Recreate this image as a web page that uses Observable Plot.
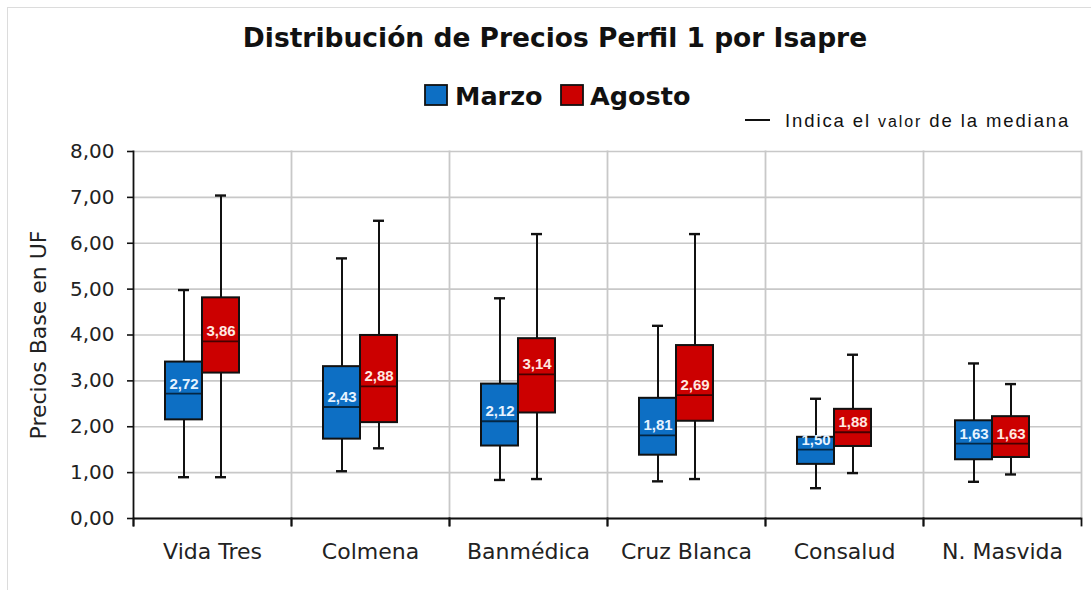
<!DOCTYPE html>
<html><head><meta charset="utf-8">
<script src="https://cdn.jsdelivr.net/npm/d3@7"></script>
<script src="https://cdn.jsdelivr.net/npm/@observablehq/plot@0.6"></script>
<style>
html,body{margin:0;padding:0;background:#fff;}
#page{position:relative;width:1091px;height:590px;overflow:hidden;}
#border{position:absolute;left:7px;top:7px;width:1100px;height:600px;border:1.5px solid #dcdcdc;box-sizing:border-box;}
#header{position:absolute;left:0;top:0;}
#chart{position:absolute;left:0;top:140px;}
</style></head><body>
<div id="page">
<div id="border"></div>
<svg id="header" width="1091" height="140" xmlns="http://www.w3.org/2000/svg">
  <text x="555" y="47" text-anchor="middle" font-family="DejaVu Sans" font-weight="bold" font-size="26.5" fill="#111">Distribución de Precios Perfil 1 por Isapre</text>
  <rect x="425" y="85" width="22" height="20" fill="#0d6fc4" stroke="#111" stroke-width="1.8"></rect>
  <text x="455" y="104.5" font-family="DejaVu Sans" font-weight="bold" font-size="25.5" fill="#111">Marzo</text>
  <rect x="561" y="85" width="22" height="20" fill="#cc0000" stroke="#111" stroke-width="1.8"></rect>
  <text x="590" y="104.5" font-family="DejaVu Sans" font-weight="bold" font-size="25.5" fill="#111">Agosto</text>
  <line x1="745" x2="770" y1="120" y2="120" stroke="#111" stroke-width="2"></line>
  <text x="785" y="127" font-family="Liberation Sans" font-size="18.5" letter-spacing="1.9" fill="#111">Indica el <tspan font-size="16">valor</tspan> de la mediana</text>
</svg>
<div id="chart"></div>
</div>
<script>
const isapres = ["Vida Tres", "Colmena", "Banmédica", "Cruz Blanca", "Consalud", "N. Masvida"];
const series = ["Marzo", "Agosto"];
const yTicks = [0, 1, 2, 3, 4, 5, 6, 7, 8];

const marzoMin    = [0.90, 1.03, 0.84, 0.81, 0.66, 0.80];
const marzoQ1     = [2.15, 1.73, 1.58, 1.38, 1.18, 1.28];
const marzoMedian = [2.72, 2.43, 2.12, 1.81, 1.50, 1.63];
const marzoQ3     = [3.41, 3.31, 2.93, 2.62, 1.77, 2.13];
const marzoMax    = [4.98, 5.67, 4.80, 4.20, 2.61, 3.38];

const agostoMin    = [0.90, 1.53, 0.86, 0.86, 0.99, 0.96];
const agostoQ1     = [3.17, 2.09, 2.30, 2.12, 1.57, 1.33];
const agostoMedian = [3.86, 2.88, 3.14, 2.69, 1.88, 1.63];
const agostoQ3     = [4.81, 3.99, 3.92, 3.77, 2.38, 2.22];
const agostoMax    = [7.04, 6.49, 6.20, 6.20, 3.57, 2.93];

const boxFill = {Marzo: "#0d6fc4", Agosto: "#cc0000"};
const labelFill = {Marzo: "#e6f3ff", Agosto: "#ffe8e0"};

const rows = isapres.flatMap((isapre, i) => [
  {isapre, serie: "Marzo", min: marzoMin[i], q1: marzoQ1[i], median: marzoMedian[i], q3: marzoQ3[i], max: marzoMax[i]},
  {isapre, serie: "Agosto", min: agostoMin[i], q1: agostoQ1[i], median: agostoMedian[i], q3: agostoQ3[i], max: agostoMax[i]}
]);

const fmt = v => v.toFixed(2).replace(".", ",");
const perSeries = (fn) => series.map(s => fn(rows.filter(d => d.serie === s), s));

const W = 1091, H = 438, MT = 11, MB = 60, ML = 132, MR = 9;
const innerH = H - MT - MB;

const chart = Plot.plot({
  width: W,
  height: H,
  marginTop: MT,
  marginBottom: MB,
  marginLeft: ML,
  marginRight: MR,
  style: {background: "none", fontFamily: "DejaVu Sans, Verdana, sans-serif", fontSize: "20px", color: "#222"},
  fx: {domain: isapres, padding: 0, label: null},
  x: {domain: series, paddingInner: 0, paddingOuter: 1.11, align: 0.38, axis: null},
  y: {domain: [0, 8], label: null},
  marks: [
    Plot.gridY(yTicks, {stroke: "#c8c8c8", strokeOpacity: 1, strokeWidth: 1.6}),
    Plot.frame({anchor: "right", stroke: "#c8c8c8", strokeWidth: 1.8}),
    Plot.frame({anchor: "left", stroke: "#111", strokeWidth: 1.8, insetTop: innerH, insetBottom: -7}),
    Plot.frame({anchor: "right", stroke: "#111", strokeWidth: 1.8, insetTop: innerH, insetBottom: -7}),
    Plot.frame({anchor: "left", facet: "super", stroke: "#111", strokeWidth: 1.8, insetBottom: -7}),
    Plot.ruleY([0], {stroke: "#111", strokeWidth: 2}),
    Plot.ruleX(rows, {fx: "isapre", x: "serie", y1: "min", y2: "max", stroke: "#111", strokeWidth: 2}),
    Plot.tickY(rows, {fx: "isapre", x: "serie", y: "min", stroke: "#111", strokeWidth: 2.4, insetLeft: 13, insetRight: 13}),
    Plot.tickY(rows, {fx: "isapre", x: "serie", y: "max", stroke: "#111", strokeWidth: 2.4, insetLeft: 13, insetRight: 13}),
    ...perSeries((data, s) => Plot.barY(data, {fx: "isapre", x: "serie", y1: "q1", y2: "q3", fill: boxFill[s], stroke: "#111", strokeWidth: 2})),
    Plot.tickY(rows, {fx: "isapre", x: "serie", y: "median", stroke: "#000", strokeOpacity: 0.65, strokeWidth: 1.8, insetLeft: 1, insetRight: 1}),
    ...perSeries((data, s) => Plot.text(data, {fx: "isapre", x: "serie", y: "median", text: d => fmt(d.median), dy: -10, fill: labelFill[s], fontWeight: "bold", fontSize: 15, fontFamily: "Liberation Sans, Arial, sans-serif"})),
    Plot.axisY({ticks: yTicks, tickFormat: fmt, tickSize: 6, tickPadding: 13, fontSize: 20, stroke: "#111", strokeWidth: 1.6, label: null}),
    Plot.axisY({ticks: [], tickSize: 0, label: "Precios Base en UF", labelAnchor: "center", labelOffset: 103, labelArrow: false, fontSize: 22}),
    Plot.axisFx({anchor: "bottom", tickSize: 0, tickPadding: 25, fontSize: 22, label: null})
  ]
});
document.getElementById("chart").appendChild(chart);
</script>
</body></html>
